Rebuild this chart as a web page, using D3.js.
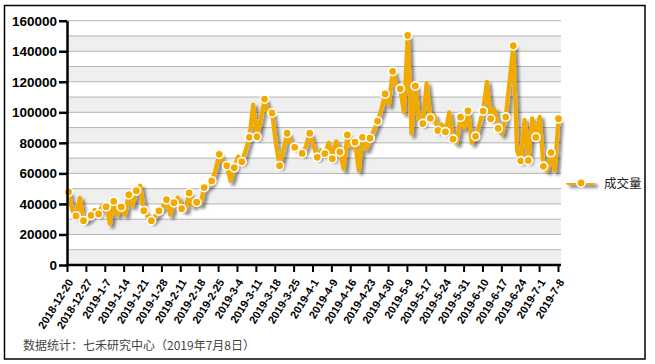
<!DOCTYPE html>
<html><head><meta charset="utf-8">
<script src="https://cdn.jsdelivr.net/npm/d3@7"></script>
<style>
html,body{margin:0;padding:0;background:#fff;}
svg{display:block;}
</style></head>
<body>
<script>
// ---- data ----
const seriesName = "成交量";
const volumes = [
 47800,36000,32100,44000,29000,30000,32500,36000,33400,39000,
 38200,27000,41700,33000,38000,33000,46000,39000,48700,52000,
 35600,32000,29000,32000,35400,38000,42800,33000,40800,44000,
 36900,36000,47200,39000,41100,40000,50700,52000,55000,62000,
 72500,68000,65000,55000,63700,71000,67700,75000,83600,105000,
 84000,95000,108700,100000,99600,80000,65000,75000,86300,80000,
 77100,75000,73100,78000,86300,78000,70500,75000,73000,80000,
 69600,81000,74000,63000,85200,78000,80400,62000,83600,76000,
 83000,88000,94200,102000,112000,105000,126800,118000,115400,100000,
 150300,86000,117300,95000,92600,119000,96100,98000,88100,92000,
 87200,100000,82500,80000,96800,90000,100900,80000,84300,92000,
 100800,120000,95800,102000,89500,86000,96900,120000,143600,75000,
 68200,95000,68500,96000,83600,97000,64600,62000,73600,62000,
 95800
];
const tickLabels = [
 "2018-12-20","2018-12-27","2019-1-7","2019-1-14","2019-1-21","2019-1-28",
 "2019-2-11","2019-2-18","2019-2-25","2019-3-4","2019-3-11","2019-3-18",
 "2019-3-25","2019-4-1","2019-4-9","2019-4-16","2019-4-23","2019-4-30",
 "2019-5-9","2019-5-17","2019-5-24","2019-5-31","2019-6-10","2019-6-17",
 "2019-6-24","2019-7-1","2019-7-8"
];
const tickStep = 5;       // one label every 5 data points
const markerStep = 2;     // marker on every 2nd point
const yTicks = [0,20000,40000,60000,80000,100000,120000,140000,160000];
const yMax = 160000, bandStep = 10000;
const footnote = "数据统计：七禾研究中心（2019年7月8日）";

// ---- layout ----
const W = 655, H = 364;
const plot = {left:67, right:561, top:20.7, bottom:265};
const color = "#F2A900";

const svg = d3.select("body").append("svg").attr("width",W).attr("height",H);

const defs = svg.append("defs");
const f = defs.append("filter").attr("id","shadow").attr("filterUnits","userSpaceOnUse")
 .attr("x",0).attr("y",0).attr("width",W).attr("height",H);
f.append("feDropShadow").attr("dx",3).attr("dy",3).attr("stdDeviation",1.4)
 .attr("flood-color","#000").attr("flood-opacity",0.45);

// border
svg.append("rect").attr("x",4.5).attr("y",5.5).attr("width",640.5).attr("height",353.5)
 .attr("fill","#fff").attr("stroke","#000").attr("stroke-width",1.5);

const x = d3.scaleLinear().domain([0, volumes.length-1]).range([68.5, 558.5]);
const y = d3.scaleLinear().domain([0, yMax]).range([plot.bottom, plot.top]);

// bands
const bands = d3.range(0, yMax, bandStep);
svg.append("g").selectAll("rect").data(bands).join("rect")
 .attr("x", plot.left).attr("width", plot.right-plot.left)
 .attr("y", d=>y(d+bandStep)).attr("height", d=>y(d)-y(d+bandStep))
 .attr("fill", (d,i)=> i%2===0 ? "#efefef" : "#ffffff");
// gridlines
svg.append("g").selectAll("line").data(d3.range(bandStep, yMax+1, bandStep)).join("line")
 .attr("x1", plot.left).attr("x2", plot.right)
 .attr("y1", d=>y(d)).attr("y2", d=>y(d))
 .attr("stroke","#b4b4b4").attr("stroke-width",1);

// line + markers
const gSeries = svg.append("g").attr("filter","url(#shadow)");
const line = d3.line().x((d,i)=>x(i)).y(d=>y(d)).curve(d3.curveLinear);
gSeries.append("path").datum(volumes).attr("d", line)
 .attr("fill","none").attr("stroke",color).attr("stroke-width",4.2).attr("stroke-linejoin","round");
const markers = volumes.map((v,i)=>({v,i})).filter(d=>d.i % markerStep === 0);
svg.append("g").selectAll("circle").data(markers).join("circle")
 .attr("cx", d=>x(d.i)).attr("cy", d=>y(d.v)).attr("r",4.2)
 .attr("fill",color).attr("stroke","#fff").attr("stroke-width",1.6);

// y axis
const yAxis = d3.axisLeft(y).tickValues(yTicks).tickSize(8).tickSizeOuter(0).tickFormat(d3.format("d"));
const gy = svg.append("g").attr("transform",`translate(${plot.left},0)`).call(yAxis);
gy.select(".domain").attr("stroke","#000").attr("stroke-width",2.5);
gy.selectAll(".tick line").attr("stroke","#000").attr("stroke-width",2.5);
gy.selectAll(".tick text").attr("font-family","Arial, 'Liberation Sans', sans-serif")
 .attr("font-size","13.5px").attr("font-weight","bold").attr("fill","#000").attr("x",-10);

// x axis
const xTick = d3.scaleLinear().domain([0, (tickLabels.length-1)*tickStep]).range([plot.left, 558]);
const xTickVals = tickLabels.map((t,i)=>i*tickStep);
const xAxis = d3.axisBottom(xTick).tickValues(xTickVals).tickSize(7).tickSizeOuter(0)
 .tickFormat((d,i)=>tickLabels[i]);
const gx = svg.append("g").attr("transform",`translate(0,${plot.bottom})`).call(xAxis);
gx.select(".domain").attr("d",`M${plot.left},0H${plot.right}`).attr("stroke","#000").attr("stroke-width",2.5);
gx.selectAll(".tick line").attr("stroke","#000").attr("stroke-width",2);
gx.selectAll(".tick text")
 .attr("font-family","Arial, 'Liberation Sans', sans-serif").attr("font-size","11px").attr("font-weight","bold").attr("fill","#000")
 .attr("text-anchor","end").attr("dy","0.35em").attr("y",0)
 .attr("transform","translate(3,15) rotate(-58)");

// legend
const lg = svg.append("g").attr("transform","translate(566,183)");
lg.append("rect").attr("x",0).attr("y",-2.1).attr("width",29).attr("height",4.2).attr("rx",2)
 .attr("fill",color).attr("filter","url(#shadow)");
lg.append("circle").attr("cx",15).attr("cy",0).attr("r",4.2)
 .attr("fill",color).attr("stroke","#fff").attr("stroke-width",1.6);
lg.append("text").attr("x",38).attr("y",4.5).text(seriesName)
 .attr("font-family","'Noto Sans CJK SC', sans-serif").attr("font-size","12.5px").attr("fill","#222");

// footnote
svg.append("text").attr("x",23).attr("y",350).text(footnote)
 .attr("font-family","'Noto Sans CJK SC', sans-serif").attr("font-size","12px").attr("fill","#444");
</script>
</body></html>
